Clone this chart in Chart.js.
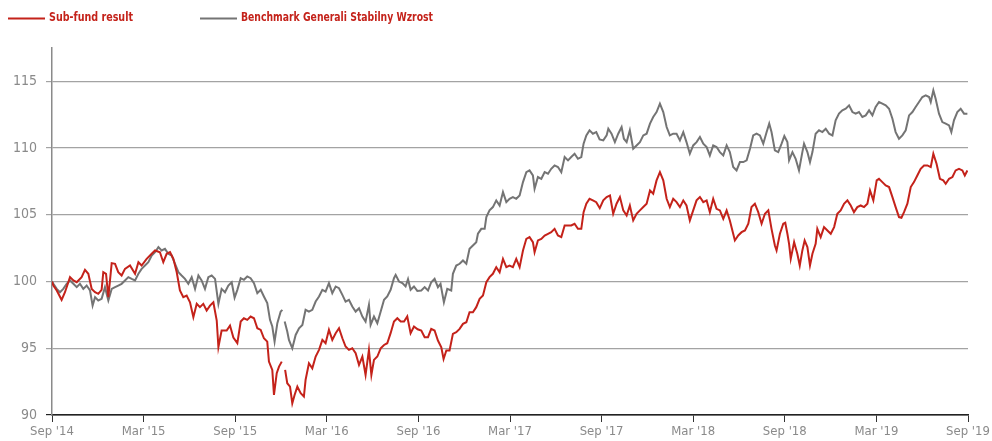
<!DOCTYPE html>
<html>
<head>
<meta charset="utf-8">
<script src="https://cdn.jsdelivr.net/npm/chart.js@4.4.1/dist/chart.umd.min.js"></script>
<style>
  html, body { margin: 0; padding: 0; background: #fff; }
</style>
</head>
<body>
<canvas id="chart" width="992" height="441"></canvas>
<script>
// ==================================================
// DATA
// ==================================================
const seriesLabels = ["Sub-fund result", "Benchmark Generali Stabilny Wzrost"];
const tickLabels = ["Sep '14", "Mar '15", "Sep '15", "Mar '16", "Sep '16", "Mar '17",
  "Sep '17", "Mar '18", "Sep '18", "Mar '19", "Sep '19"];

// months counted from Sep 2014
const subFundMonths = [
  0, 0.09, 0.31, 0.63, 0.85, 1.18, 1.40, 1.62, 1.94, 2.16, 2.38, 2.60, 2.82, 3.03, 3.25, 3.36, 3.54, 3.69, 3.91,
  4.13, 4.34, 4.56, 4.78, 5.11, 5.44, 5.66, 5.87, 6.20, 6.53, 6.75, 7.07, 7.29, 7.51, 7.73, 7.95, 8.17, 8.38,
  8.60, 8.82, 9.04, 9.26, 9.48, 9.69, 9.91, 10.13, 10.35, 10.57, 10.79, 10.90, 11.11, 11.44, 11.66, 11.88,
  12.14, 12.36, 12.57, 12.79, 13.01, 13.23, 13.45, 13.67, 13.88, 14.10, 14.21, 14.43, 14.54, 14.72, 14.87,
  15.05, 15.16, 15.27, 15.41, 15.59, 15.74, 15.89, 16.07, 16.29, 16.50, 16.61, 16.83, 17.05, 17.27, 17.49,
  17.71, 17.92, 18.14, 18.36, 18.58, 18.80, 19.02, 19.23, 19.45, 19.67, 19.89, 20.11, 20.33, 20.54, 20.76,
  20.92, 21.09, 21.31, 21.53, 21.75, 21.96, 22.18, 22.40, 22.62, 22.84, 23.06, 23.27, 23.49, 23.71, 23.95,
  24.19, 24.41, 24.63, 24.84, 25.06, 25.28, 25.50, 25.65, 25.83, 26.04, 26.26, 26.48, 26.70, 26.92, 27.14,
  27.35, 27.57, 27.79, 28.01, 28.23, 28.45, 28.66, 28.88, 29.10, 29.32, 29.54, 29.76, 29.97, 30.19, 30.41,
  30.63, 30.85, 31.07, 31.28, 31.50, 31.61, 31.83, 32.05, 32.27, 32.49, 32.70, 32.92, 33.14, 33.36, 33.58,
  33.80, 34.01, 34.23, 34.45, 34.67, 34.82, 35.00, 35.21, 35.43, 35.65, 35.88, 36.11, 36.33, 36.55, 36.76,
  36.98, 37.20, 37.42, 37.64, 37.85, 38.07, 38.29, 38.51, 38.73, 38.95, 39.17, 39.38, 39.60, 39.82, 40.04,
  40.26, 40.47, 40.69, 40.91, 41.13, 41.35, 41.56, 41.78, 42.00, 42.22, 42.44, 42.66, 42.88, 43.09, 43.31,
  43.53, 43.75, 43.97, 44.19, 44.40, 44.62, 44.73, 44.95, 45.17, 45.39, 45.61, 45.82, 46.04, 46.26, 46.48,
  46.70, 46.92, 47.13, 47.35, 47.46, 47.68, 47.90, 48.03, 48.17, 48.28, 48.39, 48.61, 48.82, 48.98, 49.15,
  49.30, 49.48, 49.65, 49.81, 50.02, 50.13, 50.35, 50.57, 50.79, 51.01, 51.23, 51.44, 51.66, 51.88, 52.10,
  52.32, 52.53, 52.75, 52.97, 53.19, 53.41, 53.58, 53.80, 54.02, 54.17, 54.39, 54.61, 54.83, 55.05, 55.26,
  55.48, 55.64, 55.81, 56.03, 56.25, 56.46, 56.68, 56.90, 57.12, 57.34, 57.56, 57.73, 57.94, 58.16, 58.38,
  58.54, 58.76, 58.98, 59.19, 59.41, 59.63, 59.79, 59.96
];
const subFundValues = [
  100.0, 99.70, 99.33, 98.63, 99.20, 100.33, 100.08, 99.95, 100.33, 100.88, 100.58, 99.45, 99.20, 99.08, 99.38, 100.70, 100.58, 98.83, 101.38,
  101.33, 100.70, 100.45, 100.95, 101.20, 100.58, 101.45, 101.20, 101.70, 102.08, 102.33, 102.20, 101.45, 102.08, 102.20, 101.70, 100.70, 99.33,
  98.83, 98.95, 98.45, 97.33, 98.33, 98.08, 98.33, 97.83, 98.20, 98.45, 97.08, 95.08, 96.33, 96.33, 96.70, 95.80,
  95.38, 97.00, 97.25, 97.13, 97.38, 97.25, 96.50, 96.38, 95.75, 95.50, 94.00, 93.38, 91.50, 93.13, 93.63,
  94.00, null, 93.38, 92.38, 92.13, 90.88, 91.50, 92.13, 91.63, 91.38, 92.63, 93.88, 93.50, 94.38, 94.88,
  95.63, 95.38, 96.38, 95.63, 96.13, 96.50, 95.75, 95.13, 94.88, 95.00, 94.63, 93.75, 94.38, 93.00, 94.88,
  93.00, 94.13, 94.38, 95.00, 95.25, 95.38, 96.13, 97.00, 97.25, 97.00, 97.00, 97.38, 96.13, 96.63, 96.42,
  96.33, 95.83, 95.83, 96.45, 96.33, 95.58, 95.08, 94.20, 94.83, 94.83, 96.08, 96.20, 96.45, 96.83, 96.95,
  97.70, 97.70, 98.08, 98.70, 98.95, 99.95, 100.33, 100.58, 101.08, 100.70, 101.70, 101.08, 101.20, 101.08, 101.70,
  101.08, 102.33, 103.20, 103.33, 102.95, 102.20, 103.08, 103.20, 103.45, 103.58, 103.70, 103.95, 103.45, 103.33, 104.20,
  104.20, 104.20, 104.33, 103.95, 103.95, 105.20, 105.83, 106.20, 106.08, 105.95, 105.50, 106.08, 106.33, 106.45, 105.08,
  105.83, 106.33, 105.33, 104.95, 105.70, 104.58, 105.08, 105.33, 105.58, 105.83, 106.83, 106.58, 107.58, 108.20, 107.58,
  106.20, 105.58, 106.20, 105.95, 105.58, 106.08, 105.70, 104.58, 105.33, 106.08, 106.33, 105.95, 106.08, 105.20, 106.20,
  105.45, 105.33, 104.70, 105.33, 104.58, 103.58, 103.08, 103.45, 103.70, 103.83, 104.33, 105.58, 105.83, 105.20, 104.33,
  105.08, 105.33, 103.95, 102.70, 102.33, 103.58, 104.33, 104.40, 103.58, 102.83, 101.70, 102.95, 102.08, 101.20, 102.33,
  103.08, 102.58, 101.20, 102.08, 102.83, 103.95, 103.33, 104.08, 103.83, 103.58, 104.08, 105.08, 105.33, 105.83, 106.08,
  105.70, 105.20, 105.58, 105.70, 105.58, 105.83, 106.83, 106.08, 107.58, 107.70, 107.45, 107.20, 107.08, 106.33, 105.58,
  104.83, 104.78, 105.20, 105.83, 107.08, 107.45, 107.95, 108.45, 108.70, 108.70, 108.58, 109.58, 108.83, 107.70, 107.58,
  107.33, 107.70, 107.83, 108.33, 108.45, 108.33, 107.95, 108.33
];

const benchmarkMonths = [
  0, 0.09, 0.31, 0.52, 0.74, 0.96, 1.18, 1.40, 1.62, 1.83, 2.05, 2.27, 2.49, 2.66, 2.82, 3.03, 3.25, 3.47, 3.69,
  3.91, 4.13, 4.34, 4.56, 4.78, 5.00, 5.22, 5.44, 5.66, 5.87, 6.09, 6.31, 6.53, 6.75, 6.97, 7.18, 7.40, 7.62,
  7.84, 8.06, 8.28, 8.49, 8.71, 8.93, 9.15, 9.37, 9.59, 9.80, 10.02, 10.24, 10.46, 10.68, 10.90, 11.11, 11.33,
  11.55, 11.77, 11.96, 12.14, 12.36, 12.57, 12.79, 13.01, 13.23, 13.45, 13.67, 13.88, 14.10, 14.28, 14.43,
  14.58, 14.76, 14.98, 15.09, 15.16, 15.24, 15.41, 15.52, 15.74, 15.96, 16.18, 16.40, 16.61, 16.83, 17.05,
  17.27, 17.49, 17.71, 17.92, 18.14, 18.36, 18.58, 18.80, 19.02, 19.23, 19.45, 19.67, 19.89, 20.11, 20.33,
  20.54, 20.76, 20.87, 21.09, 21.31, 21.53, 21.75, 21.96, 22.18, 22.40, 22.51, 22.73, 22.95, 23.16, 23.32,
  23.49, 23.71, 23.93, 24.19, 24.41, 24.63, 24.84, 25.06, 25.28, 25.45, 25.67, 25.89, 26.15, 26.26, 26.48,
  26.70, 26.92, 27.14, 27.35, 27.57, 27.79, 27.90, 28.12, 28.34, 28.45, 28.66, 28.88, 29.10, 29.32, 29.54,
  29.76, 29.97, 30.19, 30.41, 30.63, 30.85, 31.07, 31.28, 31.50, 31.61, 31.83, 32.05, 32.27, 32.49, 32.70,
  32.92, 33.14, 33.36, 33.58, 33.80, 34.01, 34.23, 34.45, 34.67, 34.82, 35.00, 35.21, 35.43, 35.65, 35.87,
  36.11, 36.33, 36.44, 36.65, 36.87, 37.09, 37.31, 37.46, 37.64, 37.85, 38.07, 38.29, 38.51, 38.73, 38.95,
  39.17, 39.38, 39.60, 39.82, 40.04, 40.26, 40.47, 40.69, 40.91, 41.13, 41.35, 41.56, 41.78, 42.00, 42.22,
  42.44, 42.66, 42.88, 43.09, 43.31, 43.53, 43.75, 43.97, 44.19, 44.40, 44.62, 44.84, 45.06, 45.28, 45.50,
  45.72, 45.93, 46.15, 46.37, 46.59, 46.81, 46.98, 47.13, 47.35, 47.57, 47.79, 47.97, 48.17, 48.28, 48.50,
  48.71, 48.93, 49.15, 49.26, 49.48, 49.65, 49.81, 50.02, 50.24, 50.46, 50.68, 50.90, 51.12, 51.33, 51.55,
  51.77, 51.99, 52.21, 52.43, 52.64, 52.86, 53.08, 53.30, 53.52, 53.74, 53.95, 54.17, 54.39, 54.61, 54.83,
  55.05, 55.26, 55.48, 55.70, 55.92, 56.14, 56.36, 56.57, 56.79, 57.01, 57.23, 57.45, 57.56, 57.73, 57.88,
  58.10, 58.32, 58.54, 58.76, 58.91, 59.08, 59.30, 59.52, 59.74, 59.96
];
const benchmarkValues = [
  100.0, 99.83, 99.45, 99.20, 99.45, 99.83, 100.08, 99.83, 99.58, 99.83, 99.45, 99.70, 99.33, 98.20, 98.83, 98.58, 98.70, 99.58, 98.58,
  99.45, 99.58, 99.70, 99.83, 100.08, 100.33, 100.20, 100.08, 100.58, 100.95, 101.20, 101.45, 101.95, 102.20, 102.58, 102.33, 102.45, 102.08,
  101.95, 101.33, 100.70, 100.45, 100.20, 99.83, 100.33, 99.45, 100.45, 100.08, 99.45, 100.33, 100.45, 100.20, 98.33, 99.45, 99.20,
  99.70, 99.95, 98.80, 99.38, 100.25, 100.13, 100.38, 100.25, 99.88, 99.13, 99.38, 98.88, 98.38, 97.13, 96.63,
  95.50, 96.88, 97.75, 97.88, null, 97.00, 96.25, 95.63, 95.00, 96.00, 96.50, 96.75, 97.88, 97.75, 97.88,
  98.50, 98.88, 99.38, 99.25, 99.88, 99.13, 99.63, 99.50, 99.00, 98.50, 98.63, 98.13, 97.75, 98.00, 97.38,
  97.00, 98.25, 96.75, 97.38, 96.88, 97.75, 98.63, 98.88, 99.38, 100.25, 100.50, 100.00, 99.88, 99.63, 100.18,
  99.38, 99.63, 99.30, 99.33, 99.58, 99.33, 99.95, 100.20, 99.58, 99.83, 98.45, 99.45, 99.33, 100.58, 101.20,
  101.33, 101.58, 101.33, 102.45, 102.70, 102.95, 103.58, 103.95, 103.95, 104.83, 105.33, 105.58, 106.08, 105.70, 106.70,
  105.95, 106.20, 106.33, 106.20, 106.45, 107.45, 108.20, 108.33, 107.95, 106.95, 107.83, 107.70, 108.20, 108.08, 108.45,
  108.70, 108.58, 108.20, 109.33, 109.08, 109.33, 109.58, 109.20, 109.33, 110.33, 110.95, 111.33, 111.08, 111.20, 110.65,
  110.58, 110.95, 111.45, 111.08, 110.45, 111.08, 111.58, 110.70, 110.45, 111.33, 109.95, 110.20, 110.45, 110.95, 111.08,
  111.83, 112.33, 112.70, 113.33, 112.70, 111.58, 110.95, 111.08, 111.08, 110.58, 111.20, 110.45, 109.58, 110.20, 110.45,
  110.83, 110.33, 110.08, 109.45, 110.20, 110.08, 109.70, 109.45, 110.20, 109.70, 108.58, 108.33, 108.95, 108.95, 109.08,
  109.95, 110.95, 111.08, 110.95, 110.33, 111.20, 111.83, 111.20, 109.83, 109.70, 110.33, 110.90, 110.45, 109.08, 109.70,
  109.20, 108.33, 109.70, 110.33, 109.70, 108.95, 109.70, 111.08, 111.33, 111.20, 111.45, 111.08, 110.95, 112.08, 112.58,
  112.83, 112.95, 113.20, 112.70, 112.58, 112.70, 112.33, 112.45, 112.83, 112.45, 113.08, 113.45, 113.33, 113.20, 112.95,
  112.20, 111.20, 110.70, 110.95, 111.33, 112.45, 112.70, 113.08, 113.45, 113.83, 113.95, 113.83, 113.45, 114.33, 113.70,
  112.58, 111.95, 111.83, 111.70, 111.20, 112.08, 112.70, 112.95, 112.58, 112.58
];

// ==================================================
// STYLE
// ==================================================
const FONT = "'Liberation Sans Narrow', 'Arial Narrow', 'DejaVu Sans Condensed', sans-serif";
const RED = "#c4221a";
const GREY = "#747474";
const LABEL_GREY = "#8a8a8a";

const toPoints = (months, values) => months.map((m, i) => ({ x: m, y: values[i] }));

// the built-in legend can't space the two items like the original, so draw it here
const legendLine = {
  id: "legendLine",
  afterDraw(chart) {
    const ctx = chart.ctx;
    const items = [
      { x: 8, color: RED, text: chart.data.datasets[0].label, width: 84 },
      { x: 200, color: GREY, text: chart.data.datasets[1].label, width: 192 },
    ];
    ctx.save();
    items.forEach((item) => {
      ctx.strokeStyle = item.color;
      ctx.lineWidth = 2;
      ctx.beginPath();
      ctx.moveTo(item.x, 18.5);
      ctx.lineTo(item.x + 37, 18.5);
      ctx.stroke();

      // squeeze the bold text to the condensed width of the original
      ctx.font = "bold 13px " + FONT;
      ctx.fillStyle = RED;
      ctx.textBaseline = "middle";
      const sx = Math.min(1, item.width / ctx.measureText(item.text).width);
      ctx.save();
      ctx.translate(item.x + 41, 18);
      ctx.scale(sx, 1);
      ctx.fillText(item.text, 0, 0);
      ctx.restore();
    });
    ctx.restore();
  },
};

const ctx = document.getElementById("chart").getContext("2d");

new Chart(ctx, {
  type: "line",
  data: {
    datasets: [
      {
        label: seriesLabels[0],
        data: toPoints(subFundMonths, subFundValues),
        borderColor: RED,
        borderWidth: 2,
        pointRadius: 0,
        tension: 0,
        fill: false,
      },
      {
        label: seriesLabels[1],
        data: toPoints(benchmarkMonths, benchmarkValues),
        borderColor: GREY,
        borderWidth: 2,
        pointRadius: 0,
        tension: 0,
        fill: false,
      },
    ],
  },
  options: {
    responsive: false,
    animation: false,
    devicePixelRatio: 1,
    layout: { padding: { top: 48, right: 24, left: 0, bottom: 0 } },
    plugins: {
      legend: { display: false },
      tooltip: { enabled: false },
    },
    scales: {
      x: {
        type: "linear",
        min: 0,
        max: 60,
        afterFit: (scale) => { scale.height = 26; },
        ticks: {
          stepSize: 6,
          autoSkip: false,
          maxRotation: 0,
          padding: 2,
          color: LABEL_GREY,
          font: { family: FONT, size: 13 },
          callback: (value) => tickLabels[value / 6],
        },
        grid: { drawOnChartArea: false, drawTicks: true, tickLength: 7, color: "#333" },
        border: { color: "#222", width: 1.5 },
      },
      y: {
        min: 90,
        max: 117.5,
        afterFit: (scale) => { scale.width = 52; },
        ticks: {
          stepSize: 5,
          includeBounds: false,
          padding: 9,
          color: LABEL_GREY,
          font: { family: FONT, size: 14 },
        },
        grid: {
          tickLength: 6,
          lineWidth: 1.2,
          color: (c) => (c.tick && c.tick.value === 90 ? "#222" : "#a3a3a3"),
        },
        border: { color: "#8a8a8a", width: 1.5 },
      },
    },
  },
  plugins: [legendLine],
});
</script>
</body>
</html>
